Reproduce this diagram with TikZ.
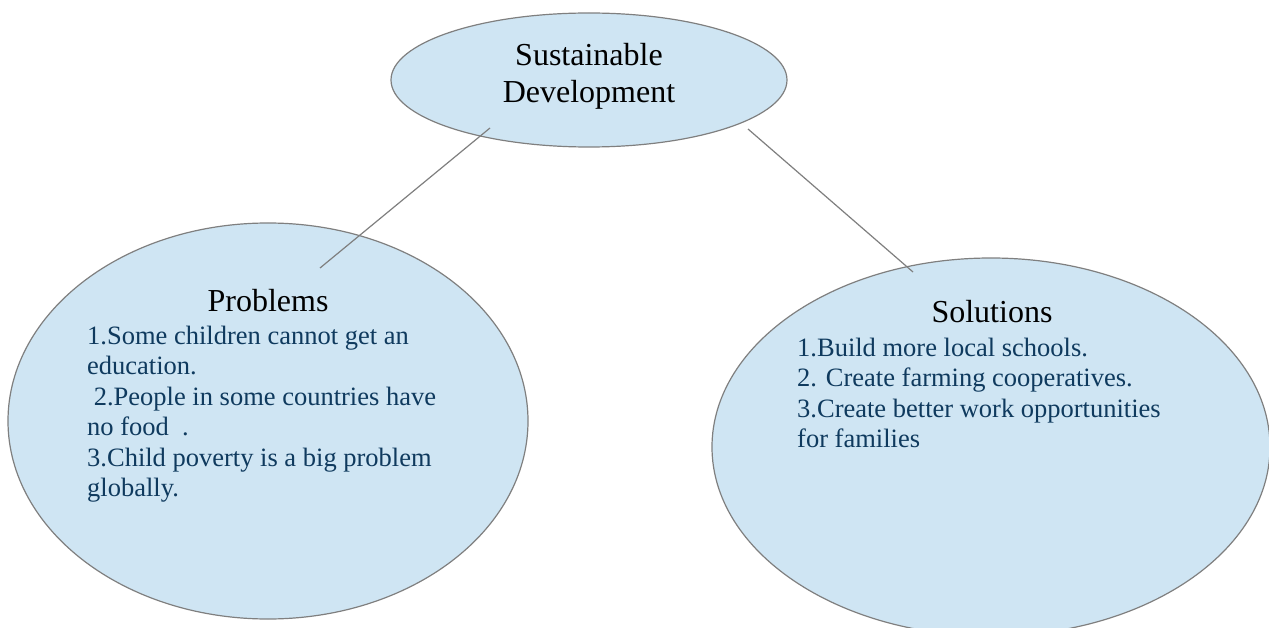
\documentclass[tikz,border=0pt]{standalone}
\usepackage{fontspec}
\setmainfont{Liberation Serif}
\usetikzlibrary{shapes.geometric}
\definecolor{bubblefill}{HTML}{CFE5F3}
\definecolor{bubbleline}{HTML}{7F7F7F}
\definecolor{itemtext}{HTML}{0F3A5E}
\begin{document}
\begin{tikzpicture}[x=1pt, y=-1pt,
		bubble/.style={ellipse, draw=bubbleline, line width=1.2pt, fill=bubblefill, inner sep=0pt, outer sep=0pt},
		heading/.style={font=\fontsize{32}{37}\selectfont, align=center, inner sep=0pt},
		items/.style={font=\fontsize{26.5}{30.4}\selectfont, text=itemtext, align=left, inner sep=0pt, anchor=north west},
		link/.style={draw=bubbleline, line width=1.2pt}]
	\useasboundingbox (0,0) rectangle (1269,628);
	\clip (0,0) rectangle (1269,628);
	% the three bubbles
	\node[bubble, minimum width=396pt, minimum height=134pt] (topic) at (589,80) {};
	\node[bubble, minimum width=520pt, minimum height=396pt] (problems) at (268,421) {};
	\node[bubble, minimum width=558pt, minimum height=378pt] (solutions) at (991,447) {};
	% headings
	\node[heading] (topictext) at (589,76) {Sustainable\\Development};
	\node[heading, anchor=base] (problemshead) at (268,312) {Problems};
	\node[heading, anchor=base] (solutionshead) at (992,323) {Solutions};
	% lists
	\node[items] (problemstext) at (87,326) {1.Some children cannot get an\\education.\\ \ 2.People in some countries have\\no food\ \ .\\3.Child poverty is a big problem\\globally.};
	\node[items] (solutionstext) at (797,338) {1.Build more local schools.\\2. Create farming cooperatives.\\3.Create better work opportunities\\for families};
	% connectors
	\coordinate (topicleft) at (490,128);
	\coordinate (topicright) at (748,129);
	\coordinate (problemstop) at (320,268);
	\coordinate (solutionstop) at (913,272);
	\draw[link] (topicleft) -- (problemstop);
	\draw[link] (topicright) -- (solutionstop);
\end{tikzpicture}
\end{document}
